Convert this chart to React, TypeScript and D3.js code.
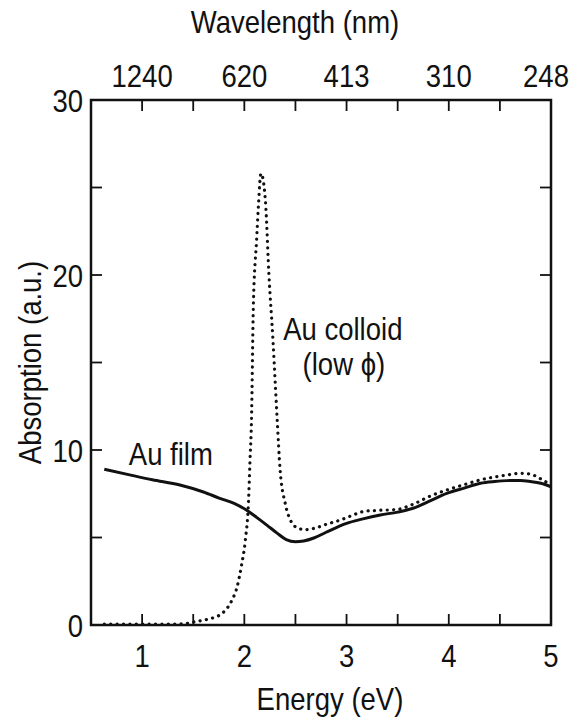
import React from 'react';
import * as d3 from 'd3';

// energy ticks (eV) and matching wavelength labels (nm) on the top axis
const energyTicks = [1, 2, 3, 4, 5];
const wavelengthLabels = ['1240', '620', '413', '310', '248'];
const minorTicksX = [1, 1.5, 2, 2.5, 3, 3.5, 4, 4.5];
const absorptionTicks = [0, 10, 20, 30];
const minorTicksY = [5, 10, 15, 20, 25];

// Au film (solid)
const filmE = [0.63, 0.9, 1.1, 1.37, 1.6, 1.76, 1.9, 2.02, 2.12, 2.22, 2.32, 2.41, 2.5, 2.58, 2.68, 2.8, 3.0, 3.15, 3.33, 3.5, 3.65, 3.8, 3.98, 4.15, 4.31, 4.45, 4.57, 4.7, 4.8, 4.9, 5.0];
const filmA = [8.9, 8.55, 8.3, 8.0, 7.6, 7.24, 6.95, 6.57, 6.15, 5.71, 5.25, 4.88, 4.76, 4.8, 4.97, 5.3, 5.81, 6.05, 6.29, 6.45, 6.67, 7.05, 7.52, 7.82, 8.1, 8.2, 8.25, 8.26, 8.2, 8.1, 7.9];

// Au colloid, low phi (dotted)
const colloidE = [0.63, 0.9, 1.2, 1.4, 1.52, 1.62, 1.7, 1.79, 1.88, 1.93, 1.97, 2.01, 2.04, 2.056, 2.07, 2.088, 2.12, 2.137, 2.163, 2.19, 2.21, 2.24, 2.28, 2.32, 2.35, 2.4, 2.45, 2.53, 2.6, 2.68, 2.8, 2.94, 3.05, 3.16, 3.3, 3.49, 3.65, 3.82, 4.0, 4.14, 4.3, 4.47, 4.6, 4.7, 4.8, 4.89, 5.0];
const colloidA = [0.05, 0.05, 0.05, 0.07, 0.19, 0.3, 0.42, 0.7, 1.43, 2.19, 3.33, 4.86, 6.95, 9.5, 11.7, 18.19, 22.0, 23.9, 25.8, 25.2, 23.9, 20.1, 16.3, 11.9, 8.86, 6.95, 6.0, 5.52, 5.45, 5.52, 5.75, 6.0, 6.25, 6.48, 6.55, 6.6, 6.9, 7.37, 7.75, 8.0, 8.28, 8.48, 8.6, 8.67, 8.62, 8.38, 8.0];

const W = 572;
const H = 719;
const margin = { top: 100, right: 21, bottom: 94, left: 91 };
const innerW = W - margin.left - margin.right;
const innerH = H - margin.top - margin.bottom;
const font = '"Liberation Sans", Arial, Helvetica, sans-serif';
const tickLen = 11;

// narrow Helvetica look: squeeze text horizontally
const Label = ({ x, y, size = 32, anchor = 'start', rotate = 0, children }: any) => (
  <g transform={`translate(${x},${y}) rotate(${rotate}) scale(0.86,1)`}>
    <text fontFamily={font} fontSize={size} textAnchor={anchor} fill="#111">
      {children}
    </text>
  </g>
);

export default function App() {
  const x = d3.scaleLinear().domain([0.5, 5]).range([0, innerW]);
  const y = d3.scaleLinear().domain([0, 30]).range([innerH, 0]);

  const filmPath = d3
    .line<number>()
    .x((d) => x(d))
    .y((d, i) => y(filmA[i]))
    .curve(d3.curveMonotoneX)(filmE);

  const colloidPath = d3
    .line<number>()
    .x((d) => x(d))
    .y((d, i) => y(colloidA[i]))
    .curve(d3.curveMonotoneX)(colloidE);

  return (
    <svg width={W} height={H} style={{ display: 'block', position: 'absolute', left: 0, top: 0 }}>
      <rect width={W} height={H} fill="#fff" />
      <g transform={`translate(${margin.left},${margin.top})`}>
        {/* data */}
        <path d={colloidPath || ''} fill="none" stroke="#111" strokeWidth={3.2} strokeDasharray="0.1 6.3" strokeLinecap="round" />
        <path d={filmPath || ''} fill="none" stroke="#111" strokeWidth={3} />

        {/* frame */}
        <rect x={0} y={0} width={innerW} height={innerH} fill="none" stroke="#111" strokeWidth={2.5} />

        {/* x ticks, bottom and top */}
        {minorTicksX.map((t) => (
          <g key={'x' + t}>
            <line x1={x(t)} x2={x(t)} y1={innerH} y2={innerH - tickLen} stroke="#111" strokeWidth={1.8} />
            <line x1={x(t)} x2={x(t)} y1={0} y2={tickLen} stroke="#111" strokeWidth={1.8} />
          </g>
        ))}
        {/* y ticks, left and right */}
        {minorTicksY.map((t) => (
          <g key={'y' + t}>
            <line x1={0} x2={tickLen} y1={y(t)} y2={y(t)} stroke="#111" strokeWidth={1.8} />
            <line x1={innerW} x2={innerW - tickLen} y1={y(t)} y2={y(t)} stroke="#111" strokeWidth={1.8} />
          </g>
        ))}

        {/* tick labels */}
        {energyTicks.map((t) => (
          <Label key={'b' + t} x={x(t)} y={innerH + 42} anchor="middle">
            {t}
          </Label>
        ))}
        {energyTicks.map((t, i) => (
          <Label key={'t' + t} x={Math.min(x(t), innerW - 5)} y={-13} anchor="middle">
            {wavelengthLabels[i]}
          </Label>
        ))}
        {absorptionTicks.map((t) => (
          <Label key={'l' + t} x={-8} y={y(t) + 11.5} anchor="end">
            {t}
          </Label>
        ))}

        {/* annotations */}
        <Label x={x(0.87)} y={y(9.14)}>Au film</Label>
        <Label x={x(2.38)} y={y(16.3)}>Au colloid</Label>
        <Label x={x(2.57)} y={y(14.3)}>(low ϕ)</Label>
      </g>

      {/* axis titles */}
      <Label x={margin.left + innerW / 2 + 9} y={710} anchor="middle">Energy (eV)</Label>
      <Label x={295} y={33} anchor="middle">Wavelength (nm)</Label>
      <Label x={41} y={margin.top + innerH / 2} anchor="middle" rotate={-90}>Absorption (a.u.)</Label>
    </svg>
  );
}
